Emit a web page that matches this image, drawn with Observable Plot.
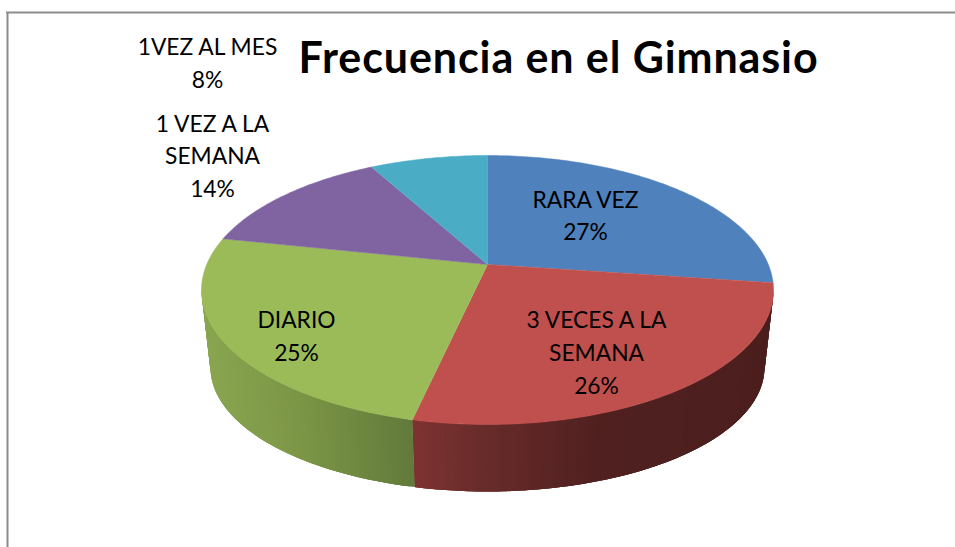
<!DOCTYPE html>
<html>
<head>
<meta charset="utf-8">
<style>html,body{margin:0;padding:0;background:#fff;overflow:hidden}svg{display:block}</style>
<script src="https://cdn.jsdelivr.net/npm/d3@7"></script>
<script src="https://cdn.jsdelivr.net/npm/@observablehq/plot@0.6"></script>
</head>
<body>
<div id="holder"></div>
<script>
const chartTitle = "Frecuencia en el Gimnasio";
const categories = ["RARA VEZ", "3 VECES A LA\nSEMANA", "DIARIO", "1 VEZ A LA\nSEMANA", "1VEZ AL MES"];
const shares = [27.2, 26.3, 24.8, 13.7, 8];
const percentLabels = ["27%", "26%", "25%", "14%", "8%"];
const sliceColors = ["#4f81bd", "#c0504d", "#9bbb59", "#8064a2", "#4bacc6"];

// Layout, in page pixels
const pie = {left: 201, right: 773, top: 155, bottom: 424, perspective: 0.1896};
const rim = {sx: 0.9685, sy: 0.922, drop: 0.576};
const labelPlaces = [[585, 213], [596, 350], [296, 333.5], [212, 153.5], [207, 60.5]];
const titlePlace = [558, 59];
const frameLine = {left: 7, top: 12};
const px = {
  x: (p) => (p - (pie.left + pie.right) / 2) / ((pie.right - pie.left) / 2),
  y: (p) => ((pie.top + pie.bottom) / 2 - p) / ((pie.bottom - pie.top) / 2)
};

// Disc point for a clockwise angle from the top, seen in perspective
const k = pie.perspective;
function disc(theta) {
  const u = Math.sin(theta), v = Math.cos(theta), w = 1 + k * v;
  return {x: (u * Math.sqrt(1 - k * k)) / w, y: (v + k) / w};
}
const apex = {x: 0, y: k};
const under = (p) => ({x: p.x * rim.sx, y: p.y * rim.sy - rim.drop});

const total = d3.sum(shares);
const cuts = [0, ...d3.cumsum(shares).map((s) => (s / total) * 2 * Math.PI)];
const deg = Math.PI / 180;

// Top slices
const topSlices = shares.flatMap((s, i) => {
  const pts = [{...apex, slice: i}];
  const n = Math.ceil((cuts[i + 1] - cuts[i]) / deg);
  for (let j = 0; j <= n; ++j) pts.push({...disc(cuts[i] + ((cuts[i + 1] - cuts[i]) * j) / n), slice: i});
  return pts;
});

// Visible rim, shaded strip by strip; each strip overlaps the next so no seams show
const redShade = d3.scaleLinear().domain([-0.25, -0.03, 0.4, 1]).range(["#7d3231", "#692c2b", "#4f201f", "#4c1f1e"]).clamp(true);
const greenShade = d3.scaleLinear().domain([-1, -0.65, -0.25]).range(["#8aa650", "#7b9546", "#61793a"]).clamp(true);
const rimFrom = Math.acos(-k), rimTo = 2 * Math.PI - rimFrom;
const strips = [];
const stripStep = 0.75 * deg;
let stripId = 0;
for (const [from, to, shadeOf] of [[rimFrom, cuts[2], redShade], [cuts[2], rimTo, greenShade]]) {
  for (let t = from; t < to; t += stripStep, ++stripId) {
    const t2 = Math.min(t + 3 * stripStep, to);
    const a = disc(t), b = disc(t2), c = disc(Math.min(t + stripStep, to));
    const shade = shadeOf((a.x + c.x) / 2);
    const pts = [a, c, b, under(b), under(c), under(a)];
    for (const p of pts) strips.push({...p, id: stripId, shade});
  }
}

const labels = categories.map((c, i) => ({
  text: `${c}\n${percentLabels[i]}`,
  x: px.x(labelPlaces[i][0]),
  y: px.y(labelPlaces[i][1])
}));

const font = "Lato, Carlito, sans-serif";
const chart = Plot.plot({
  width: 955,
  height: 547,
  margin: 0,
  style: {background: "#fff"},
  x: {domain: [-1, 1], range: [pie.left, pie.right], axis: null},
  y: {domain: [-1, 1], range: [pie.bottom, pie.top], axis: null},
  color: {type: "identity"},
  marks: [
    Plot.ruleY([px.y(frameLine.top)], {x1: px.x(frameLine.left - 1), x2: px.x(955), stroke: "#8c8c8c", strokeWidth: 2}),
    Plot.ruleX([px.x(frameLine.left)], {y1: px.y(frameLine.top), y2: px.y(547), stroke: "#8c8c8c", strokeWidth: 2}),
    Plot.line(strips, {x: "x", y: "y", z: "id", fill: "shade", stroke: "none", curve: "linear"}),
    ...shares.map((s, i) =>
      Plot.line(topSlices.filter((d) => d.slice === i), {x: "x", y: "y", fill: sliceColors[i], stroke: sliceColors[i], strokeWidth: 0.5, curve: "linear"})
    ),
    Plot.text(labels, {x: "x", y: "y", text: "text", fontFamily: font, fontSize: 22.8, lineHeight: 1.43, fill: "#000", textAnchor: "middle"}),
    Plot.text([chartTitle], {x: px.x(titlePlace[0]), y: px.y(titlePlace[1]), text: (d) => d, fontFamily: font, fontSize: 43, fontWeight: 700, fill: "#000", textAnchor: "middle"})
  ]
});
for (const t of chart.querySelectorAll("text")) {
  if (t.textContent === chartTitle) t.style.letterSpacing = "0.9px";
}
document.getElementById("holder").append(chart);
</script>
</body>
</html>
